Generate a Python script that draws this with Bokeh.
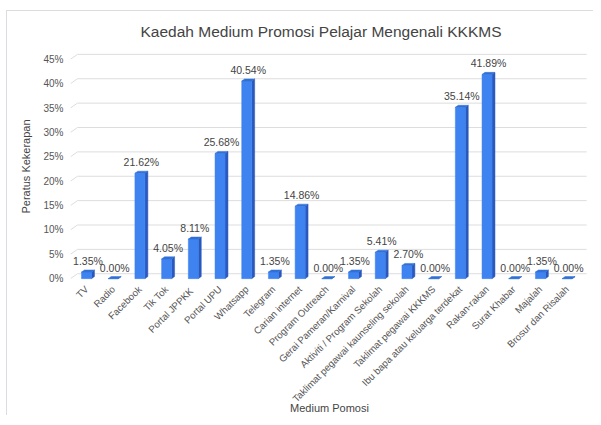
import numpy as np
from bokeh.plotting import figure
from bokeh.models import Range1d, FixedTicker, ColumnDataSource
from bokeh.core.properties import value
from bokeh.embed import file_html
from bokeh.resources import INLINE

categories = ["TV", "Radio", "Facebook", "Tik Tok", "Portal  JPPKK", "Portal UPU",
              "Whatsapp", "Telegram", "Carian internet", "Program Outreach",
              "Gerai Pameran/Karnival", "Aktiviti / Program Sekolah",
              "Taklimat pegawai kaunseling sekolah", "Taklimat pegawai KKKMS",
              "Ibu bapa atau keluarga terdekat", "Rakan-rakan", "Surat Khabar",
              "Majalah", "Brosur dan Risalah"]
values = [1.35, 0.00, 21.62, 4.05, 8.11, 25.68, 40.54, 1.35, 14.86, 0.00,
          1.35, 5.41, 2.70, 0.00, 35.14, 41.89, 0.00, 1.35, 0.00]
y_ticks = [0, 5, 10, 15, 20, 25, 30, 35, 40, 45]
y_tick_labels = ["0%", "5%", "10%", "15%", "20%", "25%", "30%", "35%", "40%", "45%"]

FONT = "Liberation Sans"
X0, X1 = -0.6, 18.8
Y0, Y1 = -1, 47

p = figure(width=587, height=405, x_range=Range1d(X0, X1), y_range=Range1d(Y0, Y1),
           output_backend="svg", toolbar_location=None,
           min_border_left=63, min_border_right=6, min_border_top=38, min_border_bottom=132,
           title="Kaedah Medium Promosi Pelajar Mengenali KKKMS")
p.outline_line_color = None
p.xgrid.grid_line_color = None
p.ygrid.grid_line_color = None
p.styles = {"margin-left": "6px", "margin-top": "10px",
            "border-top": "1px solid #dadce0", "border-left": "1px solid #dadce0"}

p.title.align = "left"
p.title.text_font = FONT
p.title.text_font_size = "15.5px"
p.title.text_font_style = "normal"
p.title.text_color = "#444444"
p.title.offset = 70
p.title.standoff = 19

# geometry (styles, in data units)
w = 0.375    # front face width
dx = 0.11    # side depth
dy = 0.42    # cap depth
gdx = 0.26   # grid back-wall offset
gdy = 1.0

# grid lines on the back wall
gx0 = [X0 for t in y_ticks]
gx1 = [X0 + gdx for t in y_ticks]
gy0 = [t for t in y_ticks]
gy1 = [t + gdy for t in y_ticks]
p.segment(gx0, gy0, gx1, gy1, line_color="#dddddd", line_width=1)
p.segment(gx1, gy1, [18.73] * len(y_ticks), gy1, line_color="#dddddd", line_width=1)

idx = np.arange(len(categories))
vals = np.array(values)

# side faces
side_xs = [[i + w / 2, i + w / 2 + dx, i + w / 2 + dx, i + w / 2] for i in idx]
side_ys = [[0, dy, v + dy, v] for v in vals]
p.patches(side_xs, side_ys, fill_color="#2a58bd", line_color="#2a58bd", line_width=0.5)
# front faces
p.vbar(x=idx, top=vals, bottom=0, width=w, fill_color="#3e83f0", line_color="#3e83f0", line_width=0.5)
# caps
cap_xs = [[i - w / 2, i + w / 2, i + w / 2 + dx, i - w / 2 + dx] for i in idx]
cap_ys = [[v, v, v + dy, v + dy] for v in vals]
p.patches(cap_xs, cap_ys, fill_color="#3270d6", line_color="#3270d6", line_width=0.5)

# data labels
labels = [f"{v:.2f}%" for v in values]
src = ColumnDataSource(dict(x=idx + dx / 2, y=vals + dy, t=labels))
p.text(x="x", y="y", text="t", source=src, text_align="center", text_baseline="bottom",
       y_offset=-3, text_font=value(FONT), text_font_size="10.5px", text_color="#444444")

# axes
p.xaxis.ticker = FixedTicker(ticks=list(range(len(categories))))
p.xaxis.major_label_overrides = {i: c for i, c in enumerate(categories)}
p.xaxis.major_label_orientation = np.pi / 4
p.xaxis.axis_line_color = None
p.xaxis.major_tick_line_color = None
p.xaxis.minor_tick_line_color = None
p.xaxis.major_tick_out = 0
p.xaxis.major_tick_in = 0
p.xaxis.minor_tick_out = 0
p.xaxis.major_label_text_font = FONT
p.xaxis.major_label_text_font_size = "9.7px"
p.xaxis.major_label_text_color = "#555555"
p.xaxis.major_label_standoff = 4
p.xaxis.axis_label = "Medium Pomosi"
p.xaxis.axis_label_text_font = FONT
p.xaxis.axis_label_text_font_size = "11px"
p.xaxis.axis_label_text_font_style = "normal"
p.xaxis.axis_label_text_color = "#444444"
p.xaxis.axis_label_standoff = -9

p.yaxis.ticker = FixedTicker(ticks=y_ticks)
p.yaxis.major_label_overrides = {t: l for t, l in zip(y_ticks, y_tick_labels)}
p.yaxis.axis_line_color = None
p.yaxis.major_tick_line_color = None
p.yaxis.minor_tick_line_color = None
p.yaxis.major_tick_out = 0
p.yaxis.major_tick_in = 0
p.yaxis.minor_tick_out = 0
p.yaxis.major_label_text_font = FONT
p.yaxis.major_label_text_font_size = "10px"
p.yaxis.major_label_text_color = "#555555"
p.yaxis.major_label_standoff = 7
p.yaxis.axis_label = "Peratus Kekerapan"
p.yaxis.axis_label_text_font = FONT
p.yaxis.axis_label_text_font_size = "11px"
p.yaxis.axis_label_text_font_style = "normal"
p.yaxis.axis_label_text_color = "#444444"
p.yaxis.axis_label_standoff = 8

open("out.html", "w").write(file_html(p, INLINE))
